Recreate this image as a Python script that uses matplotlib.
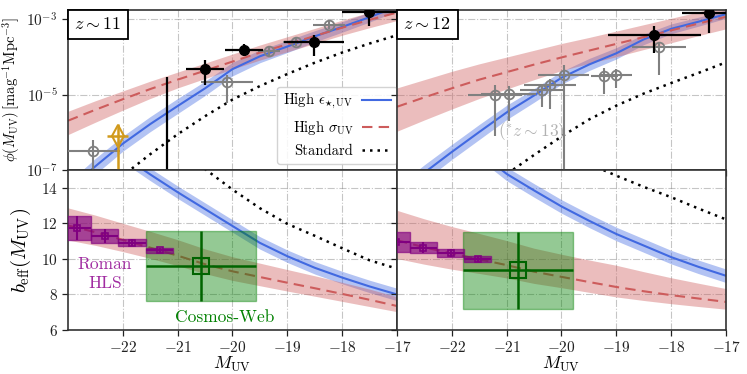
import numpy as np
import matplotlib
matplotlib.use("Agg")
import matplotlib.pyplot as plt
from matplotlib.offsetbox import AnchoredText

plt.rcParams['font.family'] = ['cmr10', 'DejaVu Serif']
plt.rcParams['mathtext.fontset'] = 'cm'
plt.rcParams['axes.formatter.use_mathtext'] = True
plt.rcParams['axes.unicode_minus'] = True

# ---------------- data ----------------
M_grid = [-23.0, -22.5, -22.0, -21.5, -21.0, -20.5, -20.0, -19.5, -19.0, -18.5, -18.0, -17.5, -17.0]

# z~11 luminosity function (log10 phi)
z11_blue = [-7.55, -6.90, -6.30, -5.78, -5.30, -4.83, -4.32, -3.98, -3.72, -3.45, -3.20, -2.94, -2.66]
z11_blue_hw = [0.21, 0.21, 0.20, 0.20, 0.20, 0.19, 0.18, 0.17, 0.16, 0.15, 0.14, 0.13, 0.12]
z11_red = [-5.69, -5.40, -5.12, -4.85, -4.60, -4.36, -4.12, -3.88, -3.66, -3.44, -3.22, -3.01, -2.82]
z11_red_up = [0.25, 0.24, 0.22, 0.21, 0.20, 0.20, 0.20, 0.20, 0.20, 0.20, 0.20, 0.20, 0.21]
z11_red_dn = [0.37, 0.33, 0.29, 0.25, 0.22, 0.21, 0.20, 0.20, 0.20, 0.20, 0.20, 0.21, 0.21]
z11_dot = [-8.35, -7.75, -7.15, -6.58, -6.05, -5.57, -5.13, -4.77, -4.45, -4.15, -3.88, -3.64, -3.42]

# z~12 luminosity function
z12_blue = [-7.65, -7.07, -6.52, -5.99, -5.47, -5.02, -4.55, -4.20, -3.90, -3.53, -3.25, -3.06, -2.86]
z12_blue_hw = [0.21, 0.21, 0.20, 0.20, 0.19, 0.18, 0.17, 0.16, 0.15, 0.14, 0.13, 0.12, 0.11]
z12_red = [-5.32, -5.07, -4.83, -4.60, -4.40, -4.20, -4.01, -3.83, -3.65, -3.47, -3.29, -3.11, -2.93]
z12_red_up = [0.50, 0.47, 0.45, 0.42, 0.40, 0.38, 0.37, 0.35, 0.34, 0.33, 0.32, 0.31, 0.30]
z12_red_dn = [0.65, 0.60, 0.55, 0.50, 0.45, 0.40, 0.35, 0.34, 0.34, 0.33, 0.33, 0.32, 0.32]
z12_dot = [-9.50, -8.90, -8.25, -7.65, -7.11, -6.60, -6.11, -5.66, -5.29, -4.97, -4.69, -4.42, -4.14]

# z~11 bias
b11_blue = [17.9, 16.85, 15.8, 14.75, 13.75, 12.80, 11.85, 10.90, 10.15, 9.50, 8.95, 8.45, 8.00]
b11_blue_hw = [0.35] * 13
b11_red = [11.88, 11.50, 11.07, 10.63, 10.18, 9.70, 9.30, 8.98, 8.66, 8.35, 8.03, 7.70, 7.35]
b11_red_up = [0.99, 0.96, 0.93, 0.92, 0.90, 0.86, 0.82, 0.78, 0.74, 0.70, 0.65, 0.60, 0.52]
b11_red_dn = [0.82, 0.74, 0.66, 0.60, 0.56, 0.53, 0.51, 0.49, 0.47, 0.45, 0.42, 0.38, 0.32]
b11_dot = [21.0, 19.8, 18.6, 17.4, 16.2, 15.05, 13.90, 12.85, 11.97, 11.30, 10.60, 9.92, 9.45]

# z~12 bias
b12_blue = [20.0, 18.6, 17.3, 16.0, 14.78, 13.85, 12.95, 12.15, 11.40, 10.75, 10.10, 9.55, 9.05]
b12_blue_hw = [0.38] * 13
b12_red = [11.05, 10.65, 10.30, 9.98, 9.65, 9.28, 8.99, 8.70, 8.42, 8.18, 7.96, 7.77, 7.58]
b12_red_up = [1.68, 1.60, 1.52, 1.45, 1.38, 1.32, 1.27, 1.24, 1.22, 1.10, 0.98, 0.86, 0.75]
b12_red_dn = [1.03, 0.95, 0.88, 0.80, 0.72, 0.66, 0.61, 0.58, 0.56, 0.52, 0.48, 0.45, 0.41]
b12_dot = [20.0, 19.3, 18.6, 17.9, 17.2, 16.6, 16.0, 15.35, 14.68, 14.05, 13.47, 12.83, 12.22]

# observed LF points, z~11 (log10 phi)
z11_blk_M = [-20.50, -19.79, -18.51, -17.51]
z11_blk_phi = [-4.315, -3.80, -3.596, -2.804]
z11_blk_xerr = [0.35, 0.35, 0.55, 0.50]
z11_blk_up = [0.235, 0.16, 0.19, 0.19]
z11_blk_dn = [0.425, 0.17, 0.37, 0.38]

z11_lim_M = [-21.19]
z11_lim_phi = [-9.0]
z11_lim_top = [-4.53]

z11_gry_M = [-22.55, -20.10, -19.34, -18.85, -18.24]
z11_gry_phi = [-6.49, -4.65, -3.85, -3.596, -3.15]
z11_gry_xerr = [0.50, 0.48, 0.20, 0.22, 0.30]
z11_gry_up = [0.28, 0.17, 0.12, 0.10, 0.10]
z11_gry_dn = [1.50, 0.58, 0.13, 0.10, 0.10]

z11_org_M = [-22.09]
z11_org_phi = [-6.11]
z11_org_xerr = [0.19]
z11_org_up = [0.34]
z11_org_dn = [1.50]

# observed LF points, z~12
z12_blk_M = [-18.31, -17.31]
z12_blk_phi = [-3.41, -2.82]
z12_blk_xerr = [0.85, 0.50]
z12_blk_up = [0.23, 0.21]
z12_blk_dn = [0.47, 0.54]

z12_gry_M = [-18.22, -19.22, -19.01, -19.96, -20.21, -20.35, -20.96, -21.21]
z12_gry_phi = [-3.72, -4.50, -4.48, -4.48, -4.74, -4.88, -4.98, -5.02]
z12_gry_xerr = [0.49, 0.25, 0.30, 0.47, 0.48, 0.40, 0.50, 0.49]
z12_gry_up = [0.10, 0.21, 0.17, 0.28, 0.16, 0.12, 0.22, 0.27]
z12_gry_dn = [0.76, 0.49, 0.33, 3.50, 0.63, 0.44, 0.71, 1.09]

# Roman HLS forecasts
rom11_M = [-22.83, -22.33, -21.83, -21.33]
rom11_b = [11.74, 11.29, 10.92, 10.48]
rom11_berr = [0.68, 0.38, 0.18, 0.14]
rom12_M = [-23.02, -22.52, -22.02, -21.53]
rom12_b = [10.96, 10.64, 10.31, 10.00]
rom12_berr = [0.56, 0.33, 0.22, 0.16]
rom_xerr = 0.25

# Cosmos-Web forecasts
cw11_M, cw11_b, cw11_berr = -20.58, 9.60, 1.98
cw12_M, cw12_b, cw12_berr = -20.79, 9.35, 2.17
cw_xerr = 1.0

xticks = [-22, -21, -20, -19, -18, -17]

# ---------------- figure ----------------
fig = plt.figure(figsize=(7.47, 3.74), dpi=100)
W = 329 / 747
H = 160 / 374
axTL = fig.add_axes([68 / 747, 1 - 170 / 374, W, H])
axTR = fig.add_axes([397 / 747, 1 - 170 / 374, W, H])
axBL = fig.add_axes([68 / 747, 1 - 330 / 374, W, H])
axBR = fig.add_axes([397 / 747, 1 - 330 / 374, W, H])

M = np.array(M_grid)
blue = 'royalblue'
red = 'indianred'
gray = 'gray'
orange = '#D19A1C'


def p(a):
    return 10 ** np.asarray(a, dtype=float)


def draw_lf(ax, bl, blhw, rd, rup, rdn, dt):
    bl = np.array(bl); blhw = np.array(blhw)
    rd = np.array(rd); rup = np.array(rup); rdn = np.array(rdn)
    ax.fill_between(M, p(bl - blhw), p(bl + blhw), color=blue, alpha=0.4, lw=0)
    ax.fill_between(M, p(rd - rdn), p(rd + rup), color=red, alpha=0.4, lw=0)
    l1, = ax.plot(M, p(bl), color=blue, lw=1.5, label=r'High $\epsilon_{\star,\rm UV}$')
    l2, = ax.plot(M, p(rd), color=red, lw=1.5, ls=(0, (5, 3)), label=r'High $\sigma_{\rm UV}$')
    l3, = ax.plot(M, p(dt), color='k', lw=1.8, ls=(0, (1, 2)), label='Standard')
    return [l1, l2, l3]


def draw_b(ax, bl, blhw, rd, rup, rdn, dt):
    bl = np.array(bl); blhw = np.array(blhw)
    rd = np.array(rd); rup = np.array(rup); rdn = np.array(rdn)
    ax.fill_between(M, bl - blhw, bl + blhw, color=blue, alpha=0.4, lw=0)
    ax.fill_between(M, rd - rdn, rd + rup, color=red, alpha=0.4, lw=0)
    ax.plot(M, bl, color=blue, lw=1.5)
    ax.plot(M, rd, color=red, lw=1.5, ls=(0, (5, 3)))
    ax.plot(M, dt, color='k', lw=1.8, ls=(0, (1, 2)))


def pts(ax, Mx, ph, xe, up, dn, **kw):
    ph = np.array(ph); up = np.array(up); dn = np.array(dn)
    y = p(ph)
    yerr = [y - p(ph - dn), p(ph + up) - y]
    ax.errorbar(Mx, y, xerr=xe, yerr=yerr, **kw)


handles = draw_lf(axTL, z11_blue, z11_blue_hw, z11_red, z11_red_up, z11_red_dn, z11_dot)
draw_lf(axTR, z12_blue, z12_blue_hw, z12_red, z12_red_up, z12_red_dn, z12_dot)

gkw = dict(fmt='o', color=gray, mfc='none', mec=gray, ms=7, mew=1.3, elinewidth=1.5, capsize=0, zorder=5)
bkw = dict(fmt='o', color='k', ms=7, elinewidth=1.6, capsize=0, zorder=6)

pts(axTL, z11_gry_M, z11_gry_phi, z11_gry_xerr, z11_gry_up, z11_gry_dn, **gkw)
pts(axTL, z11_blk_M, z11_blk_phi, z11_blk_xerr, z11_blk_up, z11_blk_dn, **bkw)
lim_y = p(z11_lim_phi)
axTL.errorbar(z11_lim_M, lim_y, yerr=[np.zeros(1), p(z11_lim_top) - lim_y],
              fmt='o', color='k', ms=7, elinewidth=1.6, capsize=0)
pts(axTL, z11_org_M, z11_org_phi, z11_org_xerr, z11_org_up, z11_org_dn,
    fmt='d', color=orange, mfc='none', mec=orange, ms=11, mew=1.5, elinewidth=1.8, capsize=0, zorder=5)

pts(axTR, z12_gry_M, z12_gry_phi, z12_gry_xerr, z12_gry_up, z12_gry_dn, **gkw)
pts(axTR, z12_blk_M, z12_blk_phi, z12_blk_xerr, z12_blk_up, z12_blk_dn, **bkw)
axTR.text(-20.55, 10 ** -5.97, r'$(^{*}z\sim13)$', color='gray', alpha=0.6, fontsize=12.5,
          ha='center', va='center')

draw_b(axBL, b11_blue, b11_blue_hw, b11_red, b11_red_up, b11_red_dn, b11_dot)
draw_b(axBR, b12_blue, b12_blue_hw, b12_red, b12_red_up, b12_red_dn, b12_dot)

for ax, rM, rb, re, cM, cb, ce in [(axBL, rom11_M, rom11_b, rom11_berr, cw11_M, cw11_b, cw11_berr),
                                   (axBR, rom12_M, rom12_b, rom12_berr, cw12_M, cw12_b, cw12_berr)]:
    rb = np.array(rb); re = np.array(re)
    ax.bar(rM, 2 * re, bottom=rb - re, width=2 * rom_xerr, color='purple', alpha=0.65,
           edgecolor='purple', lw=1, zorder=4)
    ax.errorbar(rM, rb, xerr=rom_xerr, yerr=re, fmt='s', color='purple', mfc='none', mec='purple',
                ms=5, mew=1.2, elinewidth=1.5, capsize=0, zorder=5)
    ax.bar([cM], [2 * ce], bottom=[cb - ce], width=2 * cw_xerr, color='green', alpha=0.42,
           edgecolor='green', lw=1, zorder=3)
    ax.errorbar([cM], [cb], xerr=cw_xerr, yerr=ce, fmt='s', color='darkgreen', mfc='none',
                mec='darkgreen', ms=11, mew=1.5, elinewidth=1.8, capsize=0, zorder=5)

axBL.text(-22.33, 9.15, 'Roman\nHLS', color='#a12ca1', fontsize=12.5, ha='center', va='center',
          linespacing=1.35)
axBL.text(-20.15, 6.72, 'Cosmos-Web', color='green', fontsize=12.5, ha='center', va='center')

# ---------------- axes styling ----------------
for ax in [axTL, axTR]:
    ax.set_yscale('log')
    ax.set_ylim(1e-7, 10 ** -2.75)
    ax.set_yticks([1e-7, 1e-5, 1e-3])
    ax.minorticks_off()
for ax in [axBL, axBR]:
    ax.set_ylim(6, 15)
    ax.set_yticks([6, 8, 10, 12, 14])
    ax.set_xlabel(r'$M_{\rm UV}$', fontsize=13, labelpad=0)
for ax in [axTL, axTR, axBL, axBR]:
    ax.set_xlim(-23, -17)
    ax.set_xticks(xticks)
    ax.grid(True, ls='-.', color='gray', alpha=0.45, lw=0.8)
    ax.set_axisbelow(True)
    ax.tick_params(labelsize=11, length=4, width=0.9, colors='#222222', labelcolor='#222222')
    for s in ax.spines.values():
        s.set_linewidth(1.2)
        s.set_color('#333333')
for ax in [axTR, axBR]:
    ax.set_yticklabels([])
axTL.set_xticklabels([])
axTR.set_xticklabels([])

axTL.set_ylabel(r'$\phi(M_{\rm UV})\,[{\rm mag}^{-1}{\rm Mpc}^{-3}]$', fontsize=10.5)
axTL.yaxis.set_label_coords(-0.14, 0.5)
axBL.set_ylabel(r'$b_{\rm eff}(M_{\rm UV})$', fontsize=15)
axBL.yaxis.set_label_coords(-0.105, 0.5)

for ax, lab in [(axTL, r'$z\sim11$'), (axTR, r'$z\sim12$')]:
    at = AnchoredText(lab, loc='upper left', borderpad=0.0, frameon=True, prop=dict(size=13),
                      pad=0.35)
    at.patch.set_linewidth(1.3)
    at.patch.set_edgecolor('k')
    ax.add_artist(at)

leg = axTL.legend(handles=handles, loc='lower right', bbox_to_anchor=(1.0, 0.04),
                  borderaxespad=0, markerfirst=False, fontsize=10.5, handlelength=2.0,
                  labelspacing=0.5, framealpha=0.85, borderpad=0.4, handletextpad=0.6)
leg.get_frame().set_edgecolor('#cccccc')

fig.savefig('out.png', dpi=100)
